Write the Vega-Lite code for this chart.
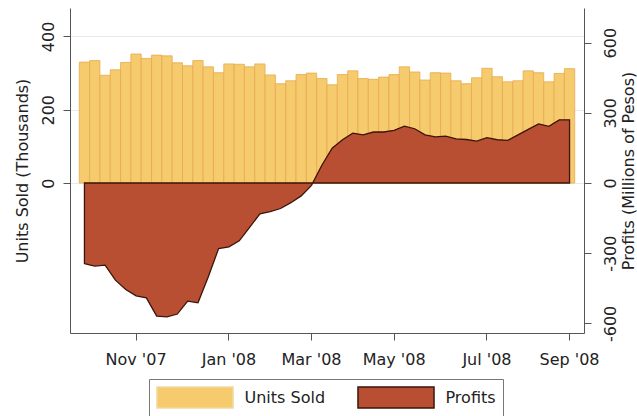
{
  "$schema": "https://vega.github.io/schema/vega-lite/v6.json",
  "width": 514,
  "height": 325,
  "autosize": {"type": "none"},
  "padding": {"left": 70, "top": 8, "right": 53, "bottom": 83},
  "data": {"values": [
    {"week": 1, "units": 330, "profit": -344},
    {"week": 2, "units": 334, "profit": -355},
    {"week": 3, "units": 294, "profit": -351},
    {"week": 4, "units": 309, "profit": -415},
    {"week": 5, "units": 329, "profit": -455},
    {"week": 6, "units": 352, "profit": -482},
    {"week": 7, "units": 340, "profit": -491},
    {"week": 8, "units": 349, "profit": -569},
    {"week": 9, "units": 347, "profit": -572},
    {"week": 10, "units": 328, "profit": -560},
    {"week": 11, "units": 320, "profit": -505},
    {"week": 12, "units": 334, "profit": -512},
    {"week": 13, "units": 317, "profit": -401},
    {"week": 14, "units": 301, "profit": -280},
    {"week": 15, "units": 325, "profit": -273},
    {"week": 16, "units": 324, "profit": -247},
    {"week": 17, "units": 317, "profit": -190},
    {"week": 18, "units": 325, "profit": -132},
    {"week": 19, "units": 295, "profit": -122},
    {"week": 20, "units": 271, "profit": -109},
    {"week": 21, "units": 279, "profit": -84},
    {"week": 22, "units": 296, "profit": -55},
    {"week": 23, "units": 300, "profit": -10},
    {"week": 24, "units": 285, "profit": 76},
    {"week": 25, "units": 268, "profit": 149},
    {"week": 26, "units": 296, "profit": 185},
    {"week": 27, "units": 306, "profit": 213},
    {"week": 28, "units": 285, "profit": 206},
    {"week": 29, "units": 283, "profit": 218},
    {"week": 30, "units": 289, "profit": 218},
    {"week": 31, "units": 296, "profit": 225},
    {"week": 32, "units": 317, "profit": 243},
    {"week": 33, "units": 303, "profit": 232},
    {"week": 34, "units": 281, "profit": 206},
    {"week": 35, "units": 301, "profit": 197},
    {"week": 36, "units": 300, "profit": 200},
    {"week": 37, "units": 279, "profit": 189},
    {"week": 38, "units": 271, "profit": 186},
    {"week": 39, "units": 287, "profit": 179},
    {"week": 40, "units": 313, "profit": 194},
    {"week": 41, "units": 290, "profit": 185},
    {"week": 42, "units": 276, "profit": 182},
    {"week": 43, "units": 279, "profit": 206},
    {"week": 44, "units": 306, "profit": 229},
    {"week": 45, "units": 301, "profit": 253},
    {"week": 46, "units": 276, "profit": 242},
    {"week": 47, "units": 299, "profit": 270},
    {"week": 48, "units": 312, "profit": 270}
  ]},
  "encoding": {
    "x": {
      "field": "week",
      "type": "ordinal",
      "scale": {"paddingInner": 0, "paddingOuter": 0.9},
      "axis": {
        "title": null,
        "values": [6, 15, 23, 31, 40, 48],
        "labelExpr": "datum.value == 6 ? \"Nov '07\" : datum.value == 15 ? \"Jan '08\" : datum.value == 23 ? \"Mar '08\" : datum.value == 31 ? \"May '08\" : datum.value == 40 ? \"Jul '08\" : \"Sep '08\"",
        "labelAngle": 0,
        "labelBaseline": "alphabetic",
        "labelPadding": 24,
        "tickSize": 7,
        "grid": false
      }
    }
  },
  "layer": [
    {
      "mark": {"type": "bar", "stroke": "#E9A94D", "strokeWidth": 0.8},
      "encoding": {
        "y": {
          "field": "units",
          "type": "quantitative",
          "scale": {"domain": [-409, 477.5], "nice": false, "zero": false},
          "axis": {
            "orient": "left",
            "title": "Units Sold (Thousands)",
            "values": [0, 200, 400],
            "labelExpr": "'' + datum.value",
            "grid": true,
            "gridColor": "#E3EBF0",
            "labelAngle": 270,
            "labelAlign": "center",
            "labelBaseline": "alphabetic",
            "labelPadding": 10,
            "tickSize": 7,
            "titleAngle": 270,
            "titleX": -43,
            "titleY": 162.5,
            "titleAlign": "center",
            "titleBaseline": "alphabetic"
          }
        },
        "y2": {"datum": 0},
        "color": {
          "datum": "Units Sold",
          "scale": {"domain": ["Units Sold", "Profits"], "range": ["#F5CB6E", "#B84F33"]},
          "legend": {
            "title": null,
            "orient": "none",
            "legendX": 79,
            "legendY": 371,
            "direction": "horizontal",
            "symbolType": "M-3.62,-1L3.62,-1L3.62,1L-3.62,1Z",
            "symbolSize": 441,
            "symbolOffset": 27.5,
            "labelOffset": 38,
            "columnPadding": 28,
            "padding": 7,
            "strokeColor": "#777777",
            "fillColor": "#ffffff",
            "labelFontSize": 16,
            "labelFont": "DejaVu Sans",
            "labelColor": "#222222",
            "symbolOpacity": 1,
            "symbolStrokeWidth": 1.5,
            "encoding": {
              "symbols": {
                "stroke": {"value": {"expr": "datum.label === 'Profits' ? '#3D140A' : '#F3D7A2'"}}
              }
            }
          }
        }
      }
    },
    {
      "mark": {"type": "area", "stroke": "#3D140A", "strokeWidth": 1.3, "opacity": 1},
      "encoding": {
        "y": {
          "field": "profit",
          "type": "quantitative",
          "scale": {"domain": [-641, 748], "nice": false, "zero": false},
          "axis": {
            "orient": "right",
            "title": "Profits (Millions of Pesos)",
            "values": [-600, -300, 0, 300, 600],
            "labelExpr": "'' + datum.value",
            "grid": false,
            "labelAngle": 270,
            "labelAlign": "center",
            "labelBaseline": "alphabetic",
            "labelPadding": 24,
            "tickSize": 7,
            "titleAngle": 270,
            "titleX": 49,
            "titleY": 162.5,
            "titleAlign": "center",
            "titleBaseline": "alphabetic"
          }
        },
        "y2": {"datum": 0},
        "color": {"datum": "Profits"}
      }
    }
  ],
  "resolve": {"scale": {"y": "independent"}},
  "config": {
    "font": "DejaVu Sans",
    "view": {"stroke": null},
    "axis": {
      "domainColor": "#555555",
      "tickColor": "#555555",
      "labelColor": "#222222",
      "titleColor": "#222222",
      "labelFont": "DejaVu Sans",
      "titleFont": "DejaVu Sans",
      "labelFontSize": 16,
      "titleFontSize": 16,
      "titleFontWeight": "normal",
      "domainWidth": 1,
      "tickWidth": 1
    }
  }
}
